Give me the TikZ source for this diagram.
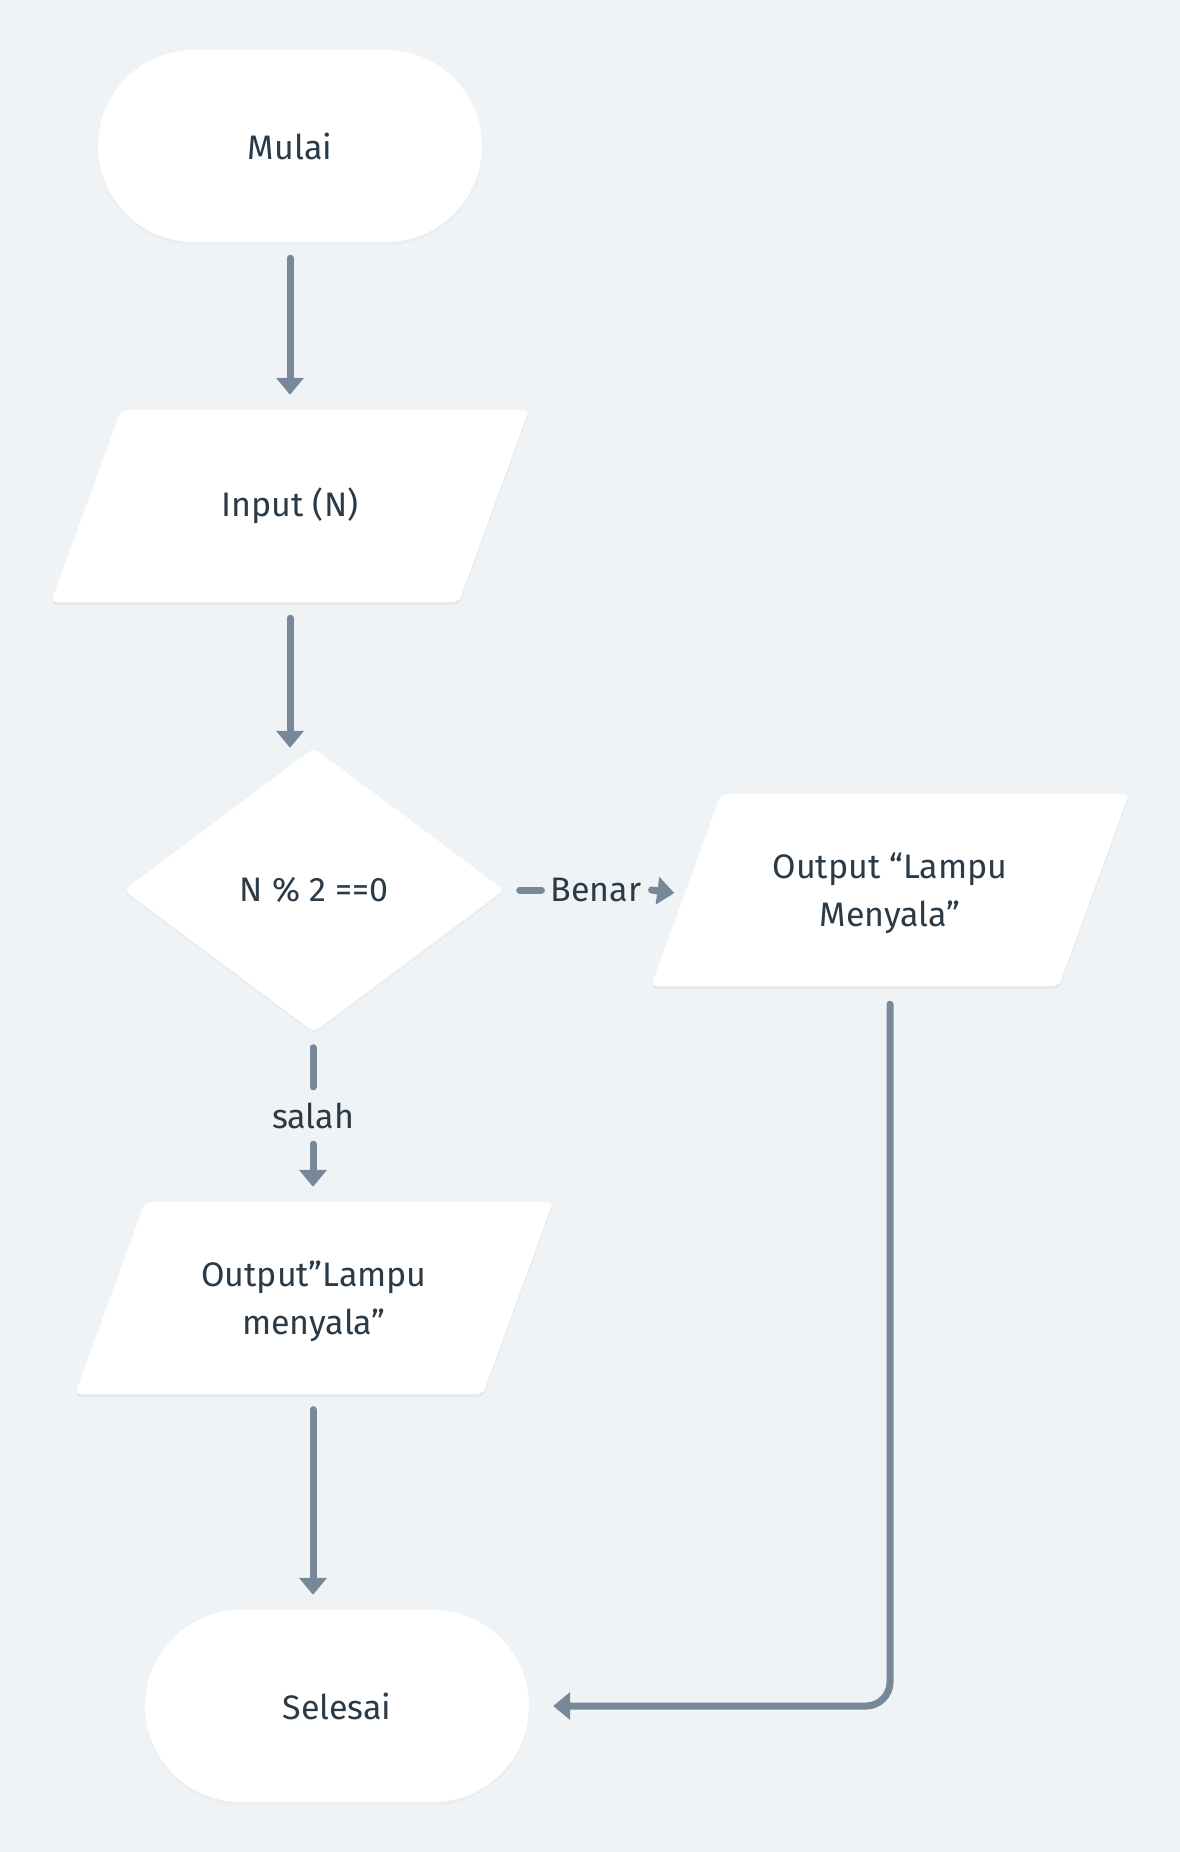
\documentclass[tikz,border=0pt]{standalone}
\usepackage{fontspec}
\setmainfont{Fira Sans}
\usetikzlibrary{arrows.meta,calc,shapes.geometric,shadows}
\definecolor{bgcol}{HTML}{EFF3F6}
\definecolor{linecol}{HTML}{778898}
\definecolor{txtcol}{HTML}{2B3A47}
\tikzset{
  lbl/.style={text=txtcol, font=\fontsize{34}{48}\selectfont, align=center, inner sep=0pt},
  soft/.style={drop shadow={opacity=0.045, shadow xshift=0pt, shadow yshift=-3pt}},
  term/.style={lbl, fill=white, soft, rounded corners=96pt, minimum width=384pt, minimum height=192pt},
  iobox/.style={lbl, minimum width=408pt, minimum height=192pt},
  decbox/.style={lbl, fill=white, soft, diamond, minimum width=380pt, minimum height=284pt, rounded corners=6pt},
  seg/.style={draw=linecol, line width=7pt, line cap=round},
  conn/.style={seg, -{Triangle[width=27pt,length=17pt]}},
  parafill/.style={fill=white, rounded corners=6pt},
  parashadow/.style={fill=black, opacity=0.045, rounded corners=6pt},
}
\newcommand\myparashape[2]{%
  \fill[parashadow] ({#1-239},{#2+99}) -- ({#1+169},{#2+99}) -- ({#1+239},{#2-93}) -- ({#1-169},{#2-93}) -- cycle;
  \fill[parafill] ({#1-239},{#2+96}) -- ({#1+169},{#2+96}) -- ({#1+239},{#2-96}) -- ({#1-169},{#2-96}) -- cycle;}
\begin{document}
\begin{tikzpicture}[x=1pt,y=-1pt]
\fill[bgcol] (0,0) rectangle (1180,1852);
\useasboundingbox (0,0) rectangle (1180,1852);
\myparashape{290}{506}
\myparashape{890}{890}
\myparashape{314}{1298}
\node[term] (start) at (290,146) {Mulai};
\node[iobox] (in) at (290,506) {Input (N)};
\node[decbox] (dec) at (314,890) {N \% 2 ==0};
\node[iobox] (outR) at (890,893) {Output “Lampu\\Menyala”};
\node[iobox] (outL) at (314,1301) {Output”Lampu\\menyala”};
\node[term] (end) at (337,1706) {Selesai};
\node[lbl] (ben) at (596,890) {Benar};
\node[lbl] (sal) at (313,1116) {salah};

\draw[conn] ([yshift=-16pt]start.south) -- ([yshift=15pt]in.north);
\draw[conn] ([yshift=-16pt]in.south) -- (in.south |- dec.north);
\draw[seg] ([xshift=15.5pt]dec.east) -- ([xshift=-9pt]ben.west);
\draw[conn] ([xshift=10pt]ben.east) -- ([xshift=-11.5pt]outR.west);
\draw[seg] ([yshift=-15.5pt]dec.south -| sal) -- ([yshift=16pt]sal.north);
\draw[conn] ([yshift=-15pt]sal.south) -- ([yshift=18pt]sal |- outL.north);
\draw[conn] ([yshift=-12.5pt,xshift=-1pt]outL.south) -- ([yshift=15pt]sal |- end.north);
\draw[conn, rounded corners=24pt] ([yshift=-15pt]outR.south) -- (outR.south |- end.east) -- ([xshift=24pt]end.east);
\end{tikzpicture}
\end{document}
